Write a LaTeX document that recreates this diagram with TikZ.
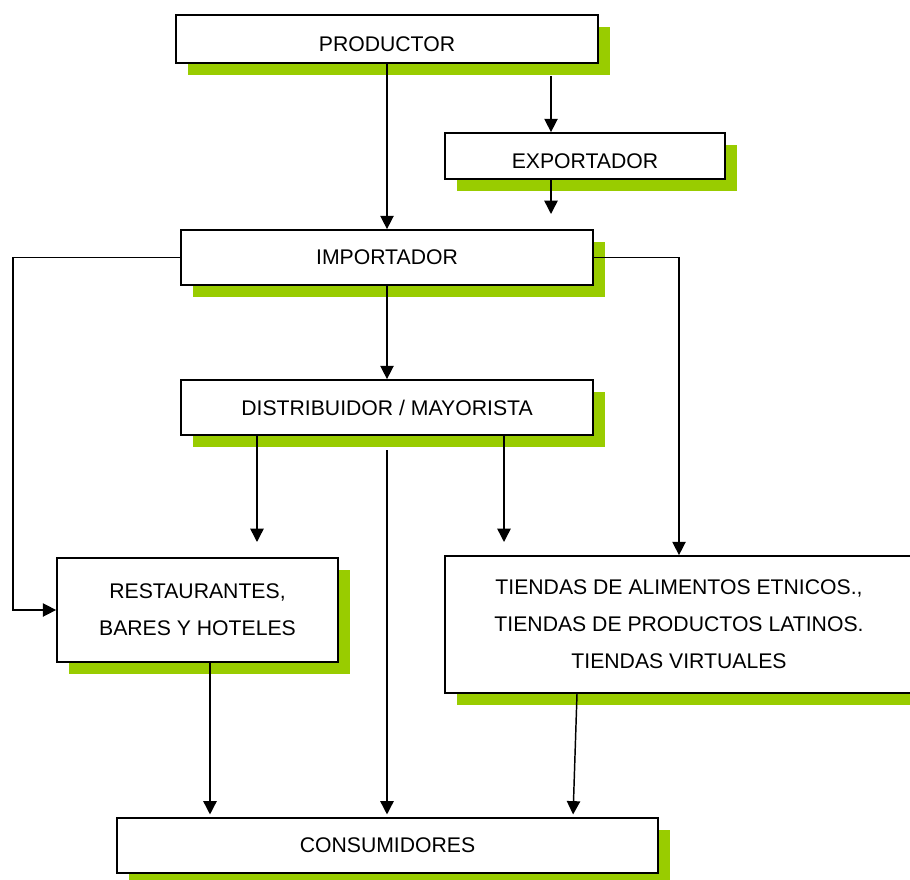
\documentclass[tikz,border=0pt]{standalone}
\usepackage{fontspec}
\setmainfont{Liberation Sans}
\usetikzlibrary{arrows.meta,positioning,shadows}
\definecolor{greena}{HTML}{99CC00}
\tikzset{box/.style={draw=black,line width=1.3pt,fill=white,inner sep=0pt,align=center,font=\fontsize{15.9}{27.7}\selectfont,drop shadow={shadow xshift=9pt,shadow yshift=-9pt,fill=greena,opacity=1}},low/.style={text height=18.5pt,text depth=0pt},arrow/.style={-{Triangle[length=10pt,width=10pt]},line width=1.1pt,draw=black}}

\begin{document}
\begin{tikzpicture}[x=0.75pt,y=-0.75pt]
\useasboundingbox (0,0) rectangle (910,880);
\node[box,low,minimum width=316.5pt,minimum height=36pt] (prod) at (387,39) {PRODUCTOR};
\node[box,low,minimum width=210pt,minimum height=34.5pt] (exp) at (585,156) {EXPORTADOR};
\node[box,minimum width=309pt,minimum height=41.25pt] (imp) at (387,257.5) {IMPORTADOR};
\node[box,minimum width=309pt,minimum height=41.25pt] (dist) at (387,407.5) {DISTRIBUIDOR / MAYORISTA};
\node[box,minimum width=210.75pt,minimum height=78pt] (rest) at (197.5,610) {RESTAURANTES,\\BARES Y HOTELES};
\node[box,minimum width=351pt,minimum height=102.75pt] (tiend) at (679,624.5) {TIENDAS DE ALIMENTOS ETNICOS.,\\TIENDAS DE PRODUCTOS LATINOS.\\TIENDAS VIRTUALES};
\node[box,minimum width=405.75pt,minimum height=41.25pt] (cons) at (387.5,845.5) {CONSUMIDORES};
% free ends
\coordinate (p2) at (551,76);
\coordinate (e1) at (551,214);
\coordinate (lft) at (13,610);
\coordinate (d1) at (257,542);
\coordinate (d3) at (504,542);
\coordinate (d2) at (387,450);
\coordinate (r1) at (210,0);
\coordinate (t1) at (577,0);
\coordinate (t2) at (573,0);
\draw[arrow] (prod.south) -- (imp.north);
\draw[arrow] (p2) -- (p2 |- exp.north);
\draw[arrow] (e1 |- exp.south) -- (e1);
\draw[arrow] (imp.south) -- (dist.north);
\draw[arrow] (imp.west) -| (lft) -- (rest.west);
\draw[arrow] (imp.east) -| (tiend.north);
\draw[arrow] (d1 |- dist.south) -- (d1);
\draw[arrow] (d3 |- dist.south) -- (d3);
\draw[arrow,shorten >=2pt] (d2) -- (d2 |- cons.north);
\draw[arrow,shorten >=2pt] (r1 |- rest.south) -- (r1 |- cons.north);
\draw[arrow,shorten >=2pt] (t1 |- tiend.south) -- (t2 |- cons.north);
\end{tikzpicture}
\end{document}
